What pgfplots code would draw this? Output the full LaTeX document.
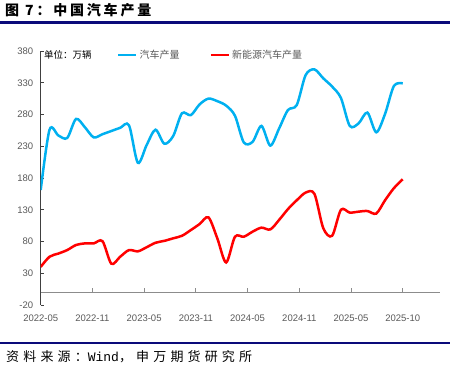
\documentclass[border=0pt]{standalone}
\usepackage{fontspec}
\setmainfont{Liberation Sans}
\newfontfamily\cjk{Noto Sans CJK SC}
\newfontfamily\cjktitle[LetterSpace=20]{Noto Sans CJK SC}
\newfontfamily\cjksrc[LetterSpace=32]{Noto Sans CJK SC}
\newfontfamily\monosrc{Liberation Mono}
\usepackage{pgfplots}
\pgfplotsset{compat=1.18}
\definecolor{navy}{HTML}{0A0A7A}
\definecolor{axisgray}{HTML}{404040}
\definecolor{labelgray}{HTML}{595959}
\definecolor{zerogray}{HTML}{8C8C8C}
\definecolor{carblue}{HTML}{00B0F0}
\definecolor{nevred}{HTML}{FF0000}

\pgfplotstableread{
i v
0 161
1 256
2 247
3 243
4 273
5 260
6 244
7 249
8 254
9 259
10 263
11 204
12 232
13 256
14 234
15 246
16 282
17 279
18 296
19 305
20 301
21 294
22 278
23 236
24 237
25 262
26 231
27 258
28 287
29 295
30 342
31 351
32 337
33 324
34 306
35 262
36 266
37 283
38 252
39 281
40 325
41 329
}\carprod

\pgfplotstableread{
i v
0 40
1 56
2 61
3 66.5
4 74.5
5 77
6 77
7 80.5
8 45
9 56
10 66.5
11 64.5
12 71
13 78
14 81
15 85
16 89
17 98
18 107.5
19 118
20 85
21 47
22 87.5
23 87.5
24 95.5
25 101.8
26 99
27 114
28 131
29 145
30 157
31 155
32 101
33 89
34 130
35 125.5
36 127
37 128
38 124
39 145
40 164
41 178
}\nevprod

\begin{document}
\begin{tikzpicture}
\useasboundingbox (0bp,0bp) rectangle (450bp,367bp);
\begin{axis}[
  at={(40.7bp,62bp)}, anchor=south west,
  scale only axis, width=399.3bp, height=254bp,
  xmin=0, xmax=45.22, ymin=-20, ymax=380,
  axis lines*=left,
  x axis line style={draw=none},
  y axis line style={draw=axisgray, line width=0.8bp},
  ytick={-20,30,...,380},
  xtick={0,5.857,11.714,17.571,23.429,29.286,35.143,41},
  xticklabels={2022-05,2022-11,2023-05,2023-11,2024-05,2024-11,2025-05,2025-10},
  tick align=inside,
  major tick length=3bp,
  ytick style={draw=axisgray, line width=0.8bp},
  xtick style={draw=none},
  ticklabel style={font=\fontsize{9.5bp}{11bp}\selectfont, text=labelgray},
  /pgf/number format/assume math mode=true,
  yticklabel style={xshift=-4bp},
  xticklabel style={anchor=center, yshift=-13bp},
  legend columns=2,
  legend cell align=left,
  legend style={draw=none, fill=none, inner sep=0pt, at={(0.191,0.984)}, anchor=west,
    font=\cjk\fontsize{10bp}{12bp}\selectfont, text=labelgray,
    /tikz/every even column/.append style={column sep=28bp}},
  legend image code/.code={\draw[#1, line width=2.5bp] (0bp,0bp) -- (18bp,0bp);},
]
\draw[zerogray, line width=0.8bp] (axis cs:0,0) -- (axis cs:45.22,0);
\draw[zerogray, line width=0.8bp]
  (axis cs:5.857,0) -- ++(0bp,4bp)
  (axis cs:11.714,0) -- ++(0bp,4bp)
  (axis cs:17.571,0) -- ++(0bp,4bp)
  (axis cs:23.429,0) -- ++(0bp,4bp)
  (axis cs:29.286,0) -- ++(0bp,4bp)
  (axis cs:35.143,0) -- ++(0bp,4bp)
  (axis cs:41,0) -- ++(0bp,4bp);
\addplot[carblue, line width=2.5bp, smooth, tension=0.5] table[x=i, y=v] {\carprod};
\addlegendentry{汽车产量}
\addplot[nevred, line width=2.5bp, smooth, tension=0.5] table[x=i, y=v] {\nevprod};
\addlegendentry{新能源汽车产量}
\end{axis}
\node[anchor=west, inner sep=0pt, text=black] at (44bp,312bp) {\cjk\fontsize{9.5bp}{11bp}\selectfont 单位：万辆};
\node[anchor=west, inner sep=0pt, text=black] at (5bp,357bp) {\cjktitle\bfseries\fontsize{14bp}{16bp}\selectfont 图 7：中国汽车产量};
\draw[navy, line width=2.5bp] (0bp,344.7bp) -- (450bp,344.7bp);
\draw[navy, line width=1.8bp] (0bp,24bp) -- (450bp,24bp);
\node[anchor=west, inner sep=0pt, text=black] at (6bp,10.5bp) {\cjksrc\fontsize{13bp}{15bp}\selectfont 资料来源：{\monosrc Wind}，申万期货研究所};
\end{tikzpicture}
\end{document}
